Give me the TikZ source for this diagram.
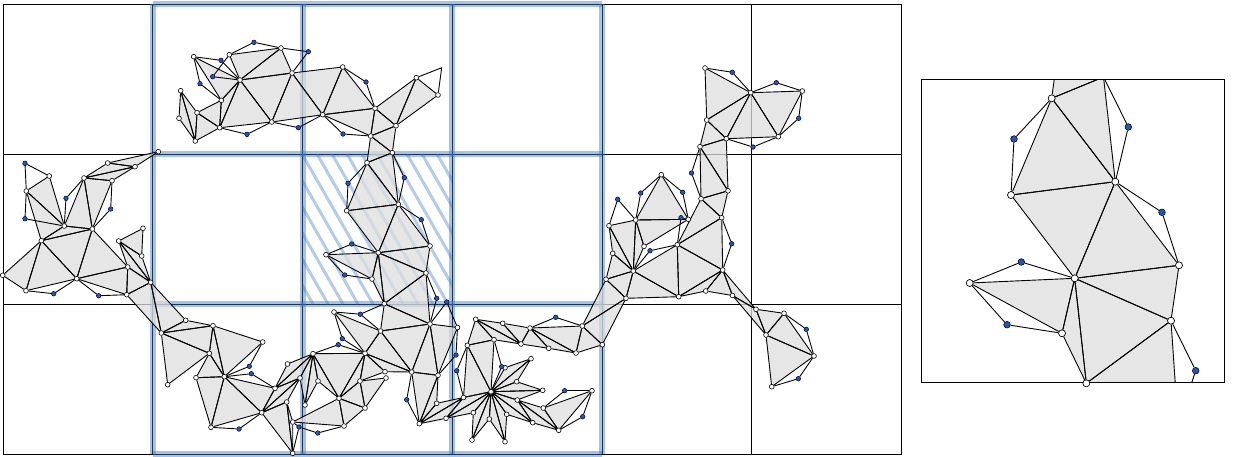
\documentclass[tikz,border=0pt]{standalone}
\usepackage{tikz}
\usetikzlibrary{backgrounds}
\definecolor{cellblue}{RGB}{60,120,190}
\definecolor{meshgray}{RGB}{222,222,222}
\definecolor{siteblue}{RGB}{40,90,155}
\tikzset{
  freevx/.style={circle,draw=black,fill=white,inner sep=0pt,minimum size=4.8pt,line width=0.6pt},
  sitevx/.style={circle,draw=black!70!blue,fill=siteblue,inner sep=0pt,minimum size=4.6pt,line width=0.5pt},
  panelfree/.style={freevx,minimum size=7pt,line width=0.7pt},
  panelsite/.style={sitevx,minimum size=6.6pt,line width=0.6pt},
  meshfill/.style={fill=meshgray,opacity=0.75},
  meshedge/.style={draw=black,line width=0.9pt},
  gridline/.style={draw=black,line width=1pt},
  cellband/.style={draw=cellblue,line width=6pt,opacity=0.45},
  hatchline/.style={draw=cellblue,line width=3pt,opacity=0.38}
}
\begin{document}
\begin{tikzpicture}[x=1pt,y=-1pt]
  \useasboundingbox (0,0) rectangle (1233,456);

  \foreach \n/\x/\y in {
    a2/49.3/176, a3/26.3/191, a5/64.3/226, a7/84/178, a8/112/180.7, a10/92.3/229,
    a11/41.3/240.7, a12/2.7/275.3, a13/26/290.7, a15/76.7/278.7, a17/126.7/294.7,
    a18/127.7/267, a19/150.7/282.3, a20/141.7/256, a21/118.7/241, a22/143/228.3,
    a23/107.7/163, a24/135/166.7, a25/158.3/151.7,
    b1/185.7/320.3, b2/213/325.7, b3/262.7/342, b4/161.3/333, b5/209.3/353.3,
    b6/167.7/384.7, b7/196/377.7, b8/224.3/376.7, b11/275/388.3, b12/261.7/412.7,
    b13/211/427.3, b15/286.7/402, b16/292.7/453.3, b17/292.7/422, b20/287.5/364,
    b21/300/378, b22/313/353.7, b23/318/381, b24/305/405,
    c1/339/398.3, c2/344/426, c3/365/353.3, c4/360/381, c5/365/408, c6/386/378,
    c7/385/371.7, c8/411.7/372, c9/438/375.3, c10/380.5/331, c11/430/324,
    c12/457.5/327.5, c13/334/312, c14/384.3/303.7, c15/419.3/423.7, c16/436.7/403.3,
    c17/446/418.3, c18/463.5/397.5,
    d1/392.3/152.7, d2/367/162.7, d3/398.3/204.3, d4/346.7/210.7, d5/430/246,
    d6/326/254.7, d7/378.3/252.7, d8/372/279, d9/426/273,
    e1/193.7/56.7, e3/229.3/54.7, e5/281/48, e8/240/80, e9/292/73, e10/342.7/67,
    e12/416.3/77.7, e14/438/95, e15/375/108.3, e16/396/125.7, e17/322.7/114.7,
    e18/370.7/136, e21/271.7/122, e23/219.7/127.7, e24/221.3/100.3, e25/197/112.7,
    e26/180.7/90.7, e27/179/118.3, e28/195.3/141,
    f1/467.3/345.3, f2/475.7/319.3, f3/494/339.7, f4/502.7/323.3, f5/521/344,
    f6/530/328, f7/548.7/348.3, f8/576/353, f9/582.3/326, f10/602.3/344.7,
    f11/505/367.7, f12/531/358.7, f13/516.7/381.7, f14/542.7/390.3, f15/491/391.7,
    f16/517.3/400, f17/543.3/408, f18/592/390.7, f19/558.7/430.3, f20/532.7/422.7,
    f21/506.7/414.3, f22/505/441.7, f23/489.3/419, f24/472/440, f25/473.3/412.7,
    g1/661.3/174.7, g2/635.7/220, g3/609/225.7, g4/688.3/219.3, g5/644/246.3,
    g6/677.3/244.7, g7/701/198.7, g8/721.7/217.7, g9/728/190.8, g10/722.7/270,
    g11/633.3/271, g12/612.7/253.3, g13/606/279.3, g14/626/298.3, g15/678.7/296.7,
    g16/705.7/291, g17/732.5/295.5,
    h1/705/68, h3/750.7/92.7, h5/802.3/91, h7/778.3/136.7, h9/726.3/138.7,
    h10/706.7/120, h11/700/146.7,
    k1/756/309.3, k2/784/313.3, k3/766/335, k5/814/356, k7/771.7/386.7} {
    \node[freevx] (\n) at (\x,\y) {};
  }
  \foreach \n/\x/\y in {
    a1/25/163.3, a4/25/218.7, a6/66/198.3, a9/110.7/209, a14/53.7/293.7, a16/98.7/295.7,
    b9/249.3/366.3, b10/251.3/373.7, b14/239/429, b18/299/427, b19/317.7/433,
    c19/338.3/344.7, c20/342.3/338.7, c21/360.3/314.2, c22/406.7/399.7, c23/456/355,
    c24/456.7/370.8,
    d10/348/183.3, d11/404.3/177.7, d12/421.3/219.7, d13/351.7/244, d14/344.7/275,
    d15/436.7/298.3, d16/446.7/302,
    e2/221/60.3, e4/254/42.3, e6/308.3/51.7, e7/212.7/76.7, e29/200/83.7, e11/366/82,
    e19/343/134, e20/298.3/127.7, e22/247/134.3,
    f26/555.7/317.3, f27/501.7/366.7, f28/564.7/390.7, f29/582.7/416.7,
    g18/640.7/193, g19/682.7/192.3, g20/617.7/199.3, g21/681/217.7, g22/650/250.7,
    g23/731.7/243.7, g24/691.5/173,
    h2/732.3/72.3, h4/776.3/82.7, h6/798.7/118.3, h8/753/147,
    k4/806.3/329.3, k6/798.3/378.7} {
    \node[sitevx] (\n) at (\x,\y) {};
  }
  \coordinate (e13) at (441.7,67.7);

  \foreach \n/\x/\y in {
    p1/1051.7/98.3, p2/1115.3/181.7, p3/1011/195, p4/1179/265.3, p5/969.7/283,
    p6/1074.7/278.3, p7/1062/333.3, p8/1171/320.7, p9/1086.3/383.3} {
    \node[panelfree] (\n) at (\x,\y) {};
  }
  \foreach \n/\x/\y in {
    p10/1014/139, p11/1128.3/127, p12/1162/212.3, p13/1021.3/262, p14/1007/324.7,
    p15/1195.7/370.7} {
    \node[panelsite] (\n) at (\x,\y) {};
  }
  \coordinate (q1) at (1059,43);
  \coordinate (q2) at (1103.5,77);
  \coordinate (q3) at (1178,424);
  \coordinate (q4) at (1078,439);

  \newcommand{\meshtris}{
    a2/a3/a5, a3/a5/a11, a5/a10/a11, a5/a7/a10, a7/a8/a10, a10/a11/a15,
    a11/a12/a13, a11/a13/a15, a10/a15/a18, a15/a17/a18, a17/a18/a19, a18/a19/a21,
    a19/a20/a21, a20/a21/a22, a7/a23/a24, a23/a24/a25, a7/a8/a24,
    a17/a19/b4, a19/b1/b4, b1/b2/b4, b2/b4/b5, b4/b5/b6, b2/b5/b8, b2/b3/b8,
    b5/b7/b8, b7/b8/b13, b8/b12/b13, b8/b11/b12, b11/b20/b22, b11/b21/b22,
    b11/b12/b21, b12/b15/b21, b12/b15/b16, b15/b16/b17, b21/b22/b24, b22/b23/b24,
    b22/b23/c1, b22/c1/c3, b17/c1/c2, c1/c2/c5, c1/c4/c5, c4/c5/c6, c1/c3/c4,
    c3/c4/c7, c3/c7/c8, c3/c8/c10, c8/c10/c11, c8/c9/c11, c9/c11/c12, c10/c11/c14,
    c3/c10/c13, c8/c9/c15, c9/c15/c16, c15/c16/c18, c15/c17/c18,
    c14/d9/c11, d8/d7/c14, d7/d9/c14, d7/d9/d5, d3/d5/d7, d3/d4/d7, d2/d3/d4,
    d1/d2/d3, d6/d7/d8,
    e1/e8/e24, e3/e5/e8, e5/e8/e9, e8/e9/e21, e8/e21/e23, e8/e23/e24, e23/e24/e25,
    e23/e25/e28, e25/e26/e28, e26/e27/e28, e9/e10/e17, e9/e17/e21, e10/e15/e17,
    e15/e17/e18, e15/e16/e18, e12/e15/e16, e12/e14/e16, e16/e18/d1, e18/d1/d2,
    f1/f2/f3, f2/f3/f5, f2/f4/f5, f4/f5/f6, f5/f6/f7, f6/f7/f8, f6/f8/f9, f8/f9/f10,
    f9/f10/g14, f9/g13/g14, f1/f3/f15, f1/c18/f15, c18/c17/f15, c17/f25/f15,
    f25/f24/f15, f24/f23/f15, f23/f22/f15, f22/f21/f15, f21/f20/f15, f15/f16/f20,
    f16/f20/f19, f16/f17/f19, f17/f18/f19, f15/f14/f16, f15/f13/f14, f15/f12/f13,
    f15/f11/f12,
    g1/g2/g4, g2/g4/g5, g2/g3/g11, g2/g5/g11, g3/g11/g12, g11/g12/g13, g11/g13/g14,
    g11/g14/g15, g6/g11/g15, g6/g10/g15, g6/g8/g10, g6/g7/g8, g7/g8/g9, g10/g15/g16,
    g10/g16/g17,
    h1/h3/h10, h3/h9/h10, h3/h7/h9, h3/h5/h7, h9/h10/h11, h9/h11/g9, h11/g7/g9,
    g10/g17/k1, g17/k1/k3, k1/k2/k3, k2/k3/k5, k3/k5/k7}
  \newcommand{\paneltris}{
    q1/q2/p1, q2/p1/p2, p1/p2/p3, p3/p2/p6, p2/p4/p6, p4/p6/p8, p6/p8/p9, p6/p7/p9,
    p5/p6/p7, p8/p9/q3, p9/q3/q4}

  \begin{scope}[on background layer]
    \foreach \x in {3,152.8,302.5,452.2,602,751.7,901.5} {
      \draw[gridline] (\x,4) -- (\x,454);
    }
    \foreach \y in {4,154,304,454} {
      \draw[gridline] (3,\y) -- (901.5,\y);
    }
    \begin{scope}
      \clip (302.5,154) rectangle (452.2,304);
      \foreach \k in {-6,...,10} {
        \draw[hatchline] (302+15*\k,154) -- (388+15*\k,304);
      }
    \end{scope}
    \foreach \x in {152.8,302.5,452.2,602} {
      \draw[cellband] (\x,4) -- (\x,454);
    }
    \foreach \y in {4,154,304,454} {
      \draw[cellband] (152.8,\y) -- (602,\y);
    }

    \fill[meshfill]
      \foreach \p/\q/\r in \meshtris {
        (\p.center) -- (\q.center) -- (\r.center) -- cycle
      };
    \foreach \p/\q/\r in \meshtris {
      \draw[meshedge] (\p) -- (\q) -- (\r) -- (\p);
    }

    \foreach \p/\q in {
      a1/a2, a1/a3, a3/a4, a4/a5, a5/a6, a6/a7, a8/a9, a9/a10, a13/a14, a14/a15, a15/a16,
      a16/a17, b3/b9, b9/b8, b8/b10, b10/b11, b13/b14, b14/b12, b17/b18, b18/b16, b18/b19,
      b19/c2, b22/c19, c19/c3, c13/c20, c20/c3, c13/c21, c21/c10, c21/c14, c8/c22, c22/c15,
      c12/c23, c23/c9, f1/c24, c24/c18, d2/d10, d10/d4, d1/d11, d11/d3, d3/d12, d12/d5,
      d6/d13, d13/d7, d6/d14, d14/d8, d9/d15, d15/c11, c11/d16, d16/c12, e1/e2, e2/e8,
      e1/e29, e29/e24, e7/e3, e7/e8, e3/e4, e4/e5, e5/e6, e6/e9, e10/e11, e11/e15, e12/e13,
      e13/e14, e17/e19, e19/e18, e21/e20, e20/e17, e23/e22, e22/e21, f6/f26, f26/f9,
      f3/f27, f27/f15, f17/f28, f28/f18, f19/f29, f29/f18, g1/g18, g18/g2, g1/g19, g19/g4,
      g3/g20, g20/g2, g11/g22, g22/g6, g6/g21, g21/g4, g8/g23, g23/g10, h11/g24, g24/g7,
      h1/h2, h2/h3, h3/h4, h4/h5, h7/h6, h6/h5, h9/h8, h8/h7, k2/k4, k4/k5, k5/k6, k6/k7} {
      \draw[meshedge] (\p) -- (\q);
    }

    \begin{scope}
      \clip (921.5,79.7) rectangle (1224.5,382.7);
      \fill[meshfill]
        \foreach \p/\q/\r in \paneltris {
          (\p.center) -- (\q.center) -- (\r.center) -- cycle
        };
      \foreach \p/\q/\r in \paneltris {
        \draw[meshedge] (\p) -- (\q) -- (\r) -- (\p);
      }
      \foreach \p/\q in {
        p1/p10, p10/p3, q2/p11, p11/p2, p2/p12, p12/p4, p5/p13, p13/p6, p5/p14, p14/p7,
        p8/p15, p15/q3} {
        \draw[meshedge] (\p) -- (\q);
      }
    \end{scope}
    \draw[gridline] (921.5,79.7) rectangle (1224.5,382.7);
  \end{scope}
\end{tikzpicture}
\end{document}
